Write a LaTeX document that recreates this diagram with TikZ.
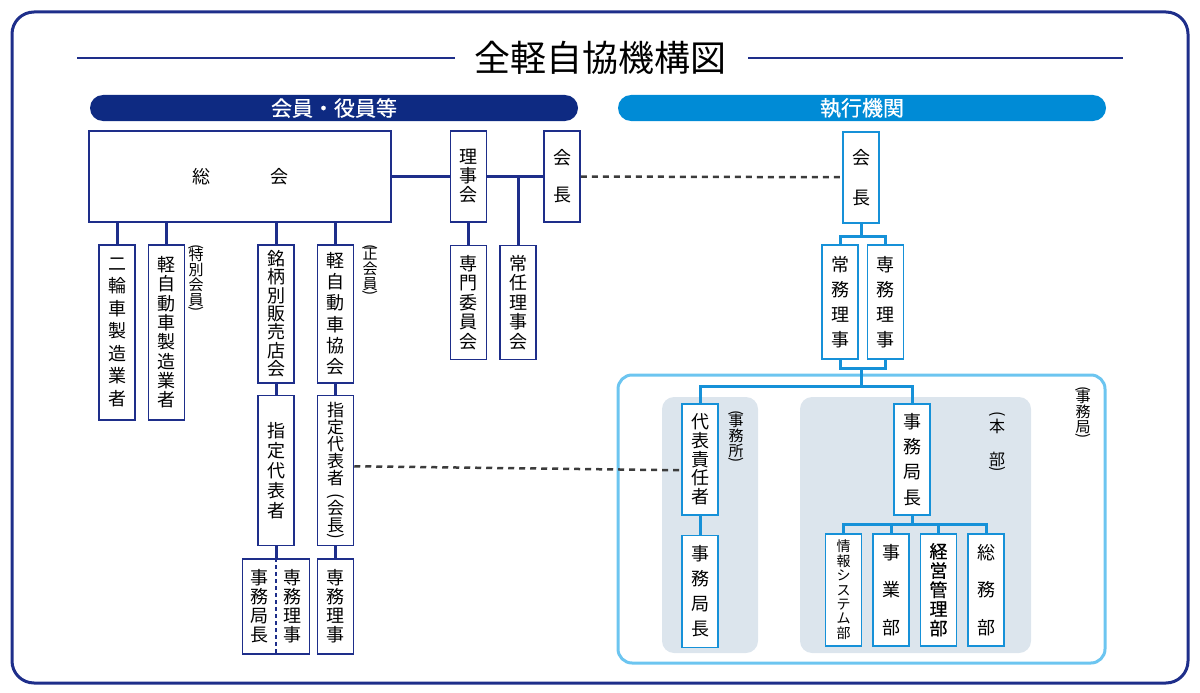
\documentclass[tikz,border=0pt]{standalone}
\usepackage{fontspec}
\setmainfont{Noto Sans CJK JP}
\newfontfamily\heavyfont{Noto Sans CJK JP}[FakeBold=0.6]
\usetikzlibrary{positioning}

\definecolor{navy}{RGB}{30,46,138}
\definecolor{navybar}{RGB}{14,42,130}
\definecolor{skyblue}{RGB}{0,139,214}
\definecolor{boxblue}{RGB}{22,145,216}
\definecolor{paleblue}{RGB}{108,197,240}
\definecolor{panelgray}{RGB}{220,229,237}
\definecolor{dashgray}{RGB}{60,60,60}

% parentheses turned for vertical text
\newcommand\vpl{\rotatebox{-90}{(}}
\newcommand\vpr{\rotatebox{-90}{)}}

\begin{document}
\begin{tikzpicture}%
  [x=1pt,y=-1pt,
   lbox/.style=
    {draw=navy,line width=1.5pt,fill=white,minimum width=36pt,inner sep=0pt,
     align=center,anchor=north,font=\fontsize{18}{19}\selectfont},
   rbox/.style={lbox,draw=boxblue},
   lead/.style={font=\fontsize{18}{#1}\selectfont},
   vtext/.style={inner sep=0pt,align=center},
   note/.style=
    {inner sep=0pt,align=center,anchor=north,font=\fontsize{15}{15}\selectfont},
   link/.style={navy,line width=3pt},
   rlink/.style={boxblue,line width=3pt},
   tie/.style={dashgray,line width=2.5pt,dash pattern=on 6pt off 5pt},
   panel/.style={fill=panelgray,rounded corners=12pt},
   bar/.style=
    {rounded corners=13pt,minimum height=26pt,minimum width=488pt,inner sep=0pt,
     text=white,font=\heavyfont\fontsize{21}{21}\selectfont}
  ]
  \useasboundingbox (0,0) rectangle (1200,693);
  \draw[navy,line width=3pt,rounded corners=22pt] (12,12) rectangle (1188,683);

  % heading
  \node[font=\fontsize{36}{36}\selectfont] (title) at (600,58) {全軽自協機構図};
  \draw[navy,line width=1.6pt] (77,58) -- (455,58);
  \draw[navy,line width=1.6pt] (748,58) -- (1123,58);
  \node[bar,fill=navybar] (members) at (334,108) {会員・役員等};
  \node[bar,fill=skyblue] (exec) at (862,108) {執行機関};

  % members and officers
  \node[lbox,anchor=center,minimum width=302pt,minimum height=91pt]
    (soukai) at (240,176.5) {総\hspace{60pt}会};
  \node[lbox,lead=19,minimum height=91pt,right=58pt of soukai] (rijikai) {理\\事\\会};
  \node[lbox,lead=37,minimum height=91pt,right=56pt of rijikai] (kaicho) {会\\長};
  \node[lbox,lead=19.6,minimum height=114pt,below=22pt of rijikai] (senmon)
    {専\\門\\委\\員\\会};
  \node[lbox,lead=19.6,minimum height=114pt,right=12pt of senmon] (jonin)
    {常\\任\\理\\事\\会};

  \node[lbox,lead=22.5,minimum height=175pt] (nirin) at (117,244)
    {二\\輪\\車\\製\\造\\業\\者};
  \node[lbox,lead=19.3,minimum height=175pt,right=12pt of nirin] (keimaker)
    {軽\\自\\動\\車\\製\\造\\業\\者};
  \node[note] (tokubetsu) at (196,244)
    {\vpl\\[-2.5pt]特\\別\\会\\員\\[-13.5pt]\vpr};

  \node[lbox,lead=18.3,minimum height=138pt] (meigara) at (276,244)
    {銘\\柄\\別\\販\\売\\店\\会};
  \node[lbox,lead=21.3,minimum height=138pt,right=22pt of meigara] (keikyokai)
    {軽\\自\\動\\車\\協\\会};
  \node[note] (seikaiin) at (370,244) {\vpl\\[-2.5pt]正\\会\\員\\[-13.5pt]\vpr};

  \node[lbox,lead=20,minimum height=150pt,below=11pt of meigara] (shitei)
    {指\\定\\代\\表\\者};
  \node[lbox,font=\fontsize{17}{17}\selectfont,minimum height=150pt,
    below=11pt of keikyokai] (shiteikai)
    {指\\定\\代\\表\\者\\[-8pt]\vpl\\会\\長\\[-15pt]\vpr};

  \node[lbox,minimum width=67pt,minimum height=95pt,below=12pt of shitei] (pair) {};
  \node[vtext,lead=19] (pairL) at ([xshift=-17pt]pair.center) {事\\務\\局\\長};
  \node[vtext,lead=19] (pairR) at ([xshift=16pt]pair.center) {専\\務\\理\\事};
  \draw[navy,line width=1.2pt,dash pattern=on 4pt off 3pt] (pair.north) -- (pair.south);
  \node[lbox,lead=19,minimum height=95pt,below=12pt of shiteikai] (senmuL)
    {専\\務\\理\\事};

  \draw[link] (soukai.east) -- (rijikai.west);
  \draw[link] (rijikai.east) -- (kaicho.west);
  \draw[link] (rijikai.south) -- (senmon.north);
  \draw[link] (jonin.north) -- (jonin.north |- kaicho.west);
  \foreach \n in {nirin,keimaker,meigara,keikyokai}
    \draw[link] (\n.north) -- (\n.north |- soukai.south);
  \draw[link] (meigara.south) -- (shitei.north);
  \draw[link] (shitei.south) -- (pair.north);
  \draw[link] (keikyokai.south) -- (shiteikai.north);
  \draw[link] (shiteikai.south) -- (senmuL.north);

  % executive side
  \draw[paleblue,line width=3pt,rounded corners=14pt] (618,375) rectangle (1105,663);
  \fill[panel] (662,397) rectangle (758,653);
  \fill[panel] (800,397) rectangle (1031,653);
  \node[note] (jimukyoku) at (1083,386) {\vpl\\[-2.5pt]事\\務\\局\\[-13.5pt]\vpr};
  \node[note] (jimusho) at (736,410) {\vpl\\[-2.5pt]事\\務\\所\\[-13.5pt]\vpr};
  \node[note,font=\fontsize{16}{33}\selectfont] (honbu) at (997,411)
    {\vpl\\[-12pt]本\\部\\[-32pt]\vpr};

  \node[rbox,lead=40,minimum height=91pt] (kaicho2) at (861,131) {会\\長};
  \node[rbox,lead=25,minimum height=114pt] (jomu) at (840,244) {常\\務\\理\\事};
  \node[rbox,lead=25,minimum height=114pt,right=8pt of jomu] (senmu) {専\\務\\理\\事};

  \node[rbox,lead=18.7,minimum height=111pt] (daihyo) at (700,403) {代\\表\\責\\任\\者};
  \node[rbox,lead=25,minimum height=112pt,below=19pt of daihyo] (kyokuchoA)
    {事\\務\\局\\長};
  \node[rbox,lead=25.3,minimum height=111pt] (kyokuchoB) at (912,403) {事\\務\\局\\長};

  \node[rbox,font=\fontsize{14}{14.4}\selectfont,minimum height=112pt] (joho)
    at (843.5,533) {情\\報\\シ\\ス\\テ\\ム\\部};
  \node[rbox,lead=37.5,minimum height=112pt,right=10pt of joho] (jigyo) {事\\業\\部};
  \node[rbox,font=\heavyfont\fontsize{18}{19.2}\selectfont,minimum height=112pt,
    right=10pt of jigyo] (keiei) {経\\営\\管\\理\\部};
  \node[rbox,lead=37.5,minimum height=112pt,right=10pt of keiei] (somu) {総\\務\\部};

  \draw[rlink] (kaicho2.south) -- ++(0,13) coordinate (ka);
  \draw[rlink] (jomu.north) |- (ka) -| (senmu.north);
  \draw[rlink] (jomu.south) -- ++(0,9) -| (senmu.south);
  \draw[rlink] (kaicho2.south |- jomu.south) ++(0,9) -- ++(0,18) coordinate (kb);
  \draw[rlink] (daihyo.north) |- (kb) -| (kyokuchoB.north);
  \draw[rlink] (daihyo.south) -- (kyokuchoA.north);
  \draw[rlink] (kyokuchoB.south) -- ++(0,9) coordinate (kc);
  \draw[rlink] (joho.north) |- (kc) -| (somu.north);
  \draw[rlink] (jigyo.north) -- (jigyo.north |- kc);
  \draw[rlink] (keiei.north) -- (keiei.north |- kc);

  % dotted ties between the two sides
  \draw[tie] (kaicho.east) -- (kaicho2.west);
  \draw[tie] (shiteikai.east) ++(0,-4) -- (shiteikai.east -| daihyo.west) ;
\end{tikzpicture}
\end{document}
